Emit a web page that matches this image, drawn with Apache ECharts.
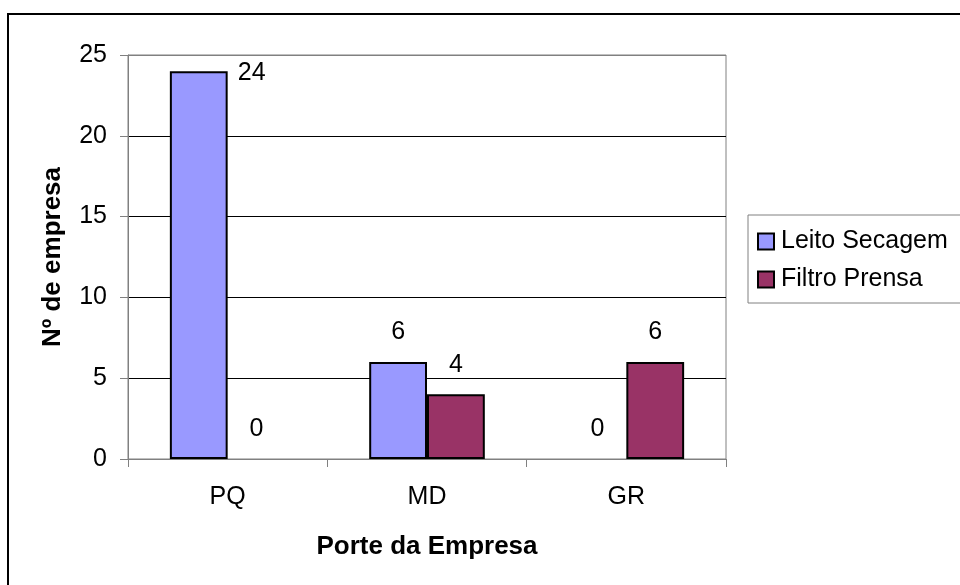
<!DOCTYPE html>
<html>
<head>
<meta charset="utf-8">
<script src="https://cdn.jsdelivr.net/npm/echarts@6/dist/echarts.min.js"></script>
<style>
  html, body { margin: 0; padding: 0; background: #fff; }
  #chart { width: 960px; height: 585px; }
</style>
</head>
<body>
<div id="chart"></div>
<script>
  var categories = ['PQ', 'MD', 'GR'];
  var leitoSecagem = [24, 6, 0];
  var filtroPrensa = [0, 4, 6];
  var seriesNames = ['Leito Secagem', 'Filtro Prensa'];

  var font = "'Liberation Sans', Arial, sans-serif";

  // barras de valor 0 sem contorno (senão aparece um traço na base)
  function toItems(arr) {
    return arr.map(function (v) {
      if (v === 0) return { value: v, itemStyle: { borderWidth: 0 } };
      return v;
    });
  }

  var leitoData = toItems(leitoSecagem);
  // o rótulo "24" fica ao lado direito da barra, como no original
  leitoData[0] = { value: leitoSecagem[0], label: { position: [68, 2], align: 'left', verticalAlign: 'middle' } };
  var filtroData = toItems(filtroPrensa);

  var chart = echarts.init(document.getElementById('chart'));
  chart.setOption({
    animation: false,
    textStyle: { fontFamily: font },
    graphic: [{
      type: 'rect',
      shape: { x: 8, y: 14, width: 1000, height: 1000 },
      style: { fill: 'none', stroke: '#000', lineWidth: 2 }
    }],
    grid: {
      left: 128, right: 234, top: 55, bottom: 126,
      show: true, borderColor: '#808080', borderWidth: 1
    },
    legend: {
      orient: 'vertical',
      left: 748, top: 215,
      padding: [14, 14, 11, 9],
      itemGap: 13,
      itemWidth: 16, itemHeight: 16,
      icon: 'rect',
      borderColor: '#808080', borderWidth: 1,
      textStyle: { fontFamily: font, fontSize: 25, color: '#000', padding: [0, 0, 0, 2] },
      data: seriesNames
    },
    xAxis: {
      type: 'category',
      data: categories,
      name: 'Porte da Empresa',
      nameLocation: 'middle',
      nameGap: 75,
      nameTextStyle: { fontFamily: font, fontSize: 26, fontWeight: 'bold', color: '#000' },
      axisLine: { lineStyle: { color: '#808080', width: 1 } },
      axisTick: { show: true, length: 8, lineStyle: { color: '#808080' } },
      axisLabel: { fontFamily: font, fontSize: 25, color: '#000', margin: 26 }
    },
    yAxis: {
      type: 'value',
      min: 0, max: 25, interval: 5,
      name: 'Nº de empresa',
      nameLocation: 'middle',
      nameGap: 62,
      nameTextStyle: { fontFamily: font, fontSize: 26, fontWeight: 'bold', color: '#000' },
      axisLine: { show: true, lineStyle: { color: '#808080', width: 1 } },
      axisTick: { show: true, length: 8, lineStyle: { color: '#808080' } },
      axisLabel: { fontFamily: font, fontSize: 25, color: '#000', margin: 21 },
      splitLine: {
        show: true,
        lineStyle: { color: ['#808080', '#000', '#000', '#000', '#000', '#808080'], width: 1 }
      }
    },
    series: [{
      name: seriesNames[0],
      type: 'bar',
      barWidth: '29%',
      barGap: '0%',
      itemStyle: { color: '#9999FF', borderColor: '#000', borderWidth: 2 },
      label: { show: true, position: 'top', distance: 17, fontFamily: font, fontSize: 25, color: '#000' },
      data: leitoData
    }, {
      name: seriesNames[1],
      type: 'bar',
      barWidth: '29%',
      itemStyle: { color: '#993366', borderColor: '#000', borderWidth: 2 },
      label: { show: true, position: 'top', distance: 17, fontFamily: font, fontSize: 25, color: '#000' },
      data: filtroData
    }]
  });
</script>
</body>
</html>
